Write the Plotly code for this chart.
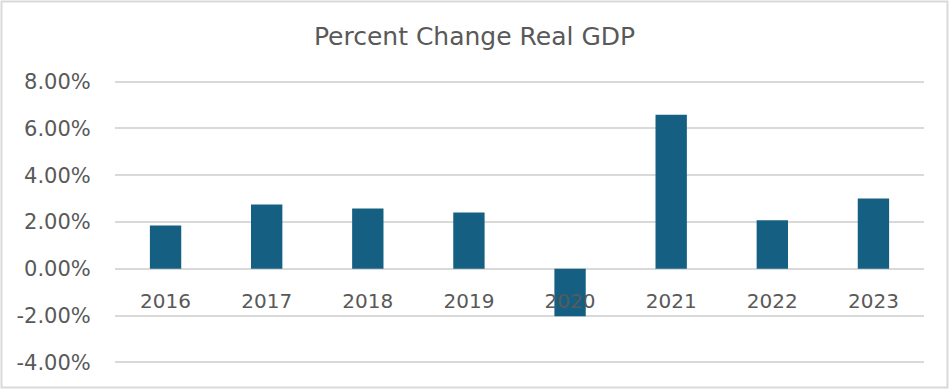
import plotly.graph_objects as go

years = ["2016", "2017", "2018", "2019", "2020", "2021", "2022", "2023"]
pct_change = [1.85, 2.75, 2.58, 2.41, -2.03, 6.59, 2.07, 3.00]
y_ticks = [-4, -2, 0, 2, 4, 6, 8]
y_tick_labels = ["-4.00%", "-2.00%", "0.00%", "2.00%", "4.00%", "6.00%", "8.00%"]

font_family = "DejaVu Sans"
text_color = "#595959"
grid_color = "#d9d9d9"

fig = go.Figure()
fig.add_trace(go.Bar(
    x=years, y=pct_change,
    marker=dict(color="#156082", line=dict(width=0)),
    width=0.31,
    hoverinfo="x+y",
))

y_lo, y_hi = -4.2, 8.2
H, W = 389, 949
mt, mb, ml, mr = 77, 22, 115, 25
ph, pw = H - mt - mb, W - ml - mr

fig.update_layout(
    width=W, height=H,
    margin=dict(l=ml, r=mr, t=mt, b=mb),
    paper_bgcolor="white", plot_bgcolor="white",
    showlegend=False,
    title=dict(text="Percent Change Real GDP", x=0.5, xanchor="center",
               y=1 - 36 / H, yanchor="middle",
               font=dict(family=font_family, size=25, color=text_color)),
    font=dict(family=font_family, color=text_color),
    xaxis=dict(
        type="category",
        anchor="free", position=(0 - y_lo) / (y_hi - y_lo),
        showline=False, showgrid=False, zeroline=False,
        ticks="outside", ticklen=14, tickcolor="rgba(0,0,0,0)",
        tickfont=dict(family=font_family, size=20, color=text_color),
        layer="above traces",
    ),
    yaxis=dict(
        range=[y_lo, y_hi],
        tickvals=y_ticks, ticktext=y_tick_labels,
        showgrid=True, gridcolor=grid_color, gridwidth=1.5,
        zeroline=True, zerolinecolor=grid_color, zerolinewidth=1.5,
        showline=False,
        ticks="outside", ticklen=19, tickcolor="rgba(0,0,0,0)",
        tickfont=dict(family=font_family, size=21, color=text_color),
        layer="below traces",
    ),
    shapes=[dict(type="rect", xref="paper", yref="paper",
                 x0=-(ml - 1.5) / pw, x1=1 + (mr - 1.5) / pw,
                 y0=-(mb - 1.5) / ph, y1=1 + (mt - 1.5) / ph,
                 line=dict(color=grid_color, width=2), layer="below")],
)

fig.write_html(
    "out.html",
    config={"displayModeBar": False},
    post_script="document.body.style.margin='0';document.body.style.padding='0';",
)
